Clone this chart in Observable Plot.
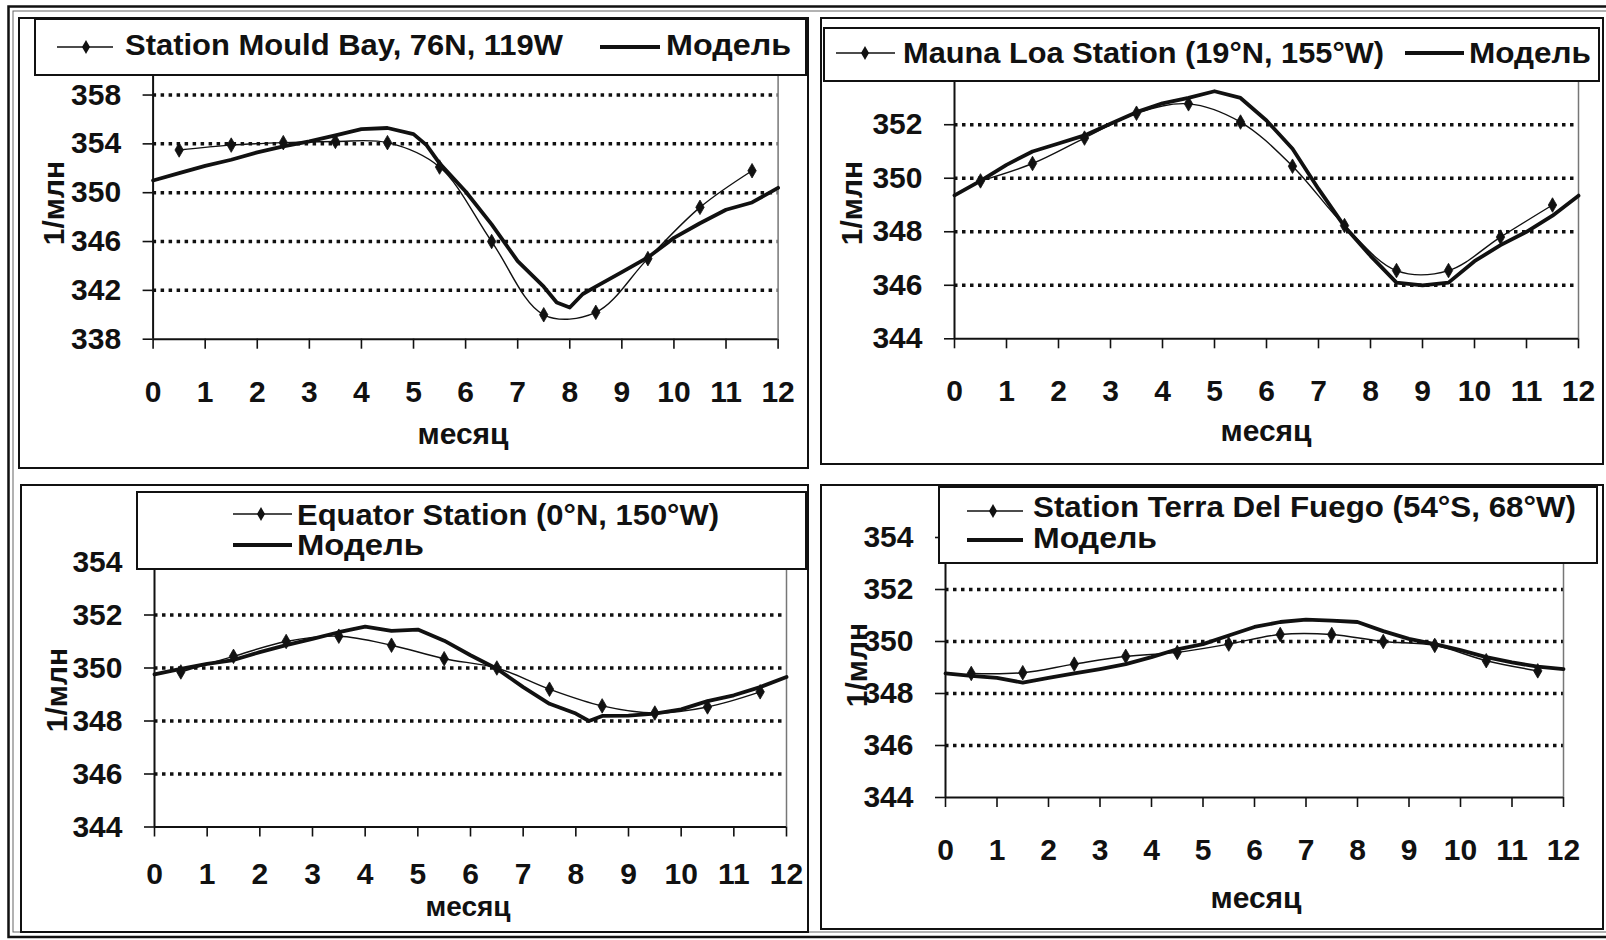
<!DOCTYPE html>
<html><head><meta charset="utf-8">
<script src="https://cdn.jsdelivr.net/npm/d3@7"></script>
<script src="https://cdn.jsdelivr.net/npm/@observablehq/plot@0.6"></script>
<style>
body{margin:0;background:#fff;}
#root{position:relative;width:1606px;height:940px;overflow:hidden;background:#fff;font-family:"Liberation Sans",Arial,sans-serif;}
#root svg{position:absolute;left:0;top:0;}
</style></head><body><div id="root"></div>
<script>
// ---- data ----
const obsMonths = [0.5,1.5,2.5,3.5,4.5,5.5,6.5,7.5,8.5,9.5,10.5,11.5];
const xTicks = [0,1,2,3,4,5,6,7,8,9,10,11,12];

const mouldObs = [353.5,353.9,354.1,354.2,354.1,352.1,346.0,340.0,340.2,344.6,348.8,351.8];
const mouldModelX = [0,0.5,1,1.5,2,2.5,3,3.5,4,4.5,5,5.25,5.5,6,6.5,7,7.5,7.75,8,8.25,8.5,9,9.5,10,10.5,11,11.5,12];
const mouldModelY = [351.0,351.6,352.2,352.7,353.3,353.8,354.2,354.7,355.2,355.3,354.8,353.9,352.4,350.1,347.4,344.4,342.3,341.0,340.6,341.7,342.3,343.5,344.7,346.3,347.5,348.6,349.2,350.4];

const maunaObs = [349.9,350.55,351.5,352.43,352.78,352.1,350.45,348.23,346.55,346.55,347.8,349.0];
const maunaModelX = [0,0.5,1,1.5,2,2.5,3,3.5,4,4.5,5,5.5,6,6.5,7,7.5,8,8.5,9,9.5,10,10.5,11,11.5,12];
const maunaModelY = [349.36,349.9,350.5,351.0,351.3,351.6,352.04,352.47,352.8,353.0,353.25,353.0,352.16,351.1,349.6,348.2,347.1,346.1,346.0,346.1,346.9,347.5,348.0,348.6,349.35];

const equatorObs = [349.85,350.44,351.0,351.2,350.86,350.35,350.0,349.2,348.57,348.3,348.53,349.1];
const equatorModelX = [0,0.5,1,1.5,2,2.5,3,3.5,4,4.5,5,5.5,6,6.5,7,7.5,8,8.25,8.5,9,9.5,10,10.5,11,11.5,12];
const equatorModelY = [349.76,349.97,350.16,350.3,350.6,350.86,351.1,351.35,351.56,351.4,351.45,351.03,350.48,349.97,349.28,348.65,348.28,348.0,348.19,348.2,348.28,348.44,348.75,348.97,349.28,349.66];

const fuegoObs = [348.77,348.8,349.13,349.43,349.58,349.9,350.27,350.27,350.0,349.85,349.26,348.87];
const fuegoModelX = [0,0.5,1,1.5,2,2.5,3,3.5,4,4.5,5,5.5,6,6.5,7,7.5,8,8.5,9,9.5,10,10.5,11,11.5,12];
const fuegoModelY = [348.77,348.68,348.6,348.42,348.6,348.77,348.94,349.13,349.4,349.7,349.9,350.23,350.56,350.75,350.84,350.8,350.75,350.4,350.1,349.9,349.67,349.4,349.2,349.03,348.94];

const stationNames = ["Station Mould Bay, 76N, 119W","Mauna Loa Station (19°N, 155°W)","Equator Station (0°N, 150°W)","Station Terra Del Fuego (54°S, 68°W)"];
const modelName = "Модель";
const yTitle = "1/млн";
const xTitle = "месяц";

// ---- layout ----
const W = 1606, H = 940;
const FONT = "Liberation Sans, Arial, Helvetica, sans-serif";
const panels = [
  {obs: mouldObs, mx: mouldModelX, my: mouldModelY, domain:[338,359.6], ticks:[338,342,346,350,354,358], grid:[342,346,350,354,358],
   left:152.6, right:777.6, top:75, bottom:338.7, pad:31},
  {obs: maunaObs, mx: maunaModelX, my: maunaModelY, domain:[344,354], ticks:[344,346,348,350,352], grid:[346,348,350,352],
   left:954, right:1578, top:70.7, bottom:338.3, pad:31},
  {obs: equatorObs, mx: equatorModelX, my: equatorModelY, domain:[344,354], ticks:[344,346,348,350,352,354], grid:[346,348,350,352],
   left:154, right:786, top:561.5, bottom:826.5, pad:26},
  {obs: fuegoObs, mx: fuegoModelX, my: fuegoModelY, domain:[344,354], ticks:[344,346,348,350,352,354], grid:[346,348,350,352],
   left:945, right:1563, top:537, bottom:797, pad:31}
];

const root = document.getElementById("root");

panels.forEach(p => {
  const obs = p.obs.map((v,i) => ({x: obsMonths[i], y: v}));
  const model = p.mx.map((x,i) => ({x, y: p.my[i]}));
  const chart = Plot.plot({
    width: W, height: H,
    marginLeft: p.left, marginRight: W - p.right, marginTop: p.top, marginBottom: H - p.bottom,
    style: {background: "transparent", fontFamily: FONT, fontSize: "30px", fontWeight: "bold", color: "#111", overflow: "visible"},
    x: {domain: [0, 12]},
    y: {domain: p.domain},
    marks: [
      Plot.ruleY(p.grid, {stroke: "#111", strokeWidth: 3.5, strokeDasharray: "3.5,4.5"}),
      Plot.ruleX([12], {stroke: "#777", strokeWidth: 1.5}),
      Plot.line(model, {x: "x", y: "y", stroke: "#111", strokeWidth: 3.8}),
      Plot.line(obs, {x: "x", y: "y", stroke: "#111", strokeWidth: 1.4, curve: "catmull-rom"}),
      Plot.dot(obs, {x: "x", y: "y", symbol: "diamond", r: 4.4, fill: "#111", stroke: "#111", strokeWidth: 0.8}),
      Plot.axisX({ticks: xTicks, tickSize: 10, tickPadding: p.pad, label: null, fontSize: 30, fontWeight: "bold", stroke: "#111", strokeWidth: 1.6}),
      Plot.axisY({ticks: p.ticks, tickSize: 10, tickPadding: 22, label: null, fontSize: 30, fontWeight: "bold", stroke: "#111", strokeWidth: 1.6}),
      Plot.ruleX([0], {stroke: "#111", strokeWidth: 2}),
      Plot.ruleY([p.domain[0]], {stroke: "#111", strokeWidth: 2})
    ]
  });
  root.appendChild(chart);
});

// ---- frames, legends, axis titles (overlay) ----
const ov = d3.select(root).append("svg").attr("width", W).attr("height", H)
  .style("position","absolute").style("left","0").style("top","0")
  .style("font-family", FONT).style("font-weight","bold").style("font-size","30px");

// outer border
ov.append("rect").attr("x",8.5).attr("y",6.5).attr("width",1610).attr("height",930.5)
  .attr("fill","none").attr("stroke","#111").attr("stroke-width",2.5);
ov.append("rect").attr("x",13).attr("y",11).attr("width",1610).attr("height",921)
  .attr("fill","none").attr("stroke","#666").attr("stroke-width",1);

const frames = [[19,18,808,468],[821,18,1603,464],[21,485,808,932],[821,485,1603,929]];
frames.forEach(([x0,y0,x1,y1]) => {
  ov.append("rect").attr("x",x0).attr("y",y0).attr("width",x1-x0).attr("height",y1-y0)
    .attr("fill","none").attr("stroke","#111").attr("stroke-width",2);
});

// legend boxes
const legends = [
  {box:[35,19,806,75], rows:[
    {sw:[57,113,47], diamond:86, tx:125, ty:55, text:stationNames[0], tl:438},
    {sw:[600,660,47], thick:true, tx:666, ty:55, text:modelName, tl:125}]},
  {box:[824,28,1599,81], rows:[
    {sw:[836,895,53], diamond:865, tx:903, ty:63, text:stationNames[1], tl:481},
    {sw:[1405,1464,53], thick:true, tx:1469, ty:63, text:modelName, tl:122}]},
  {box:[137,492,806,569], rows:[
    {sw:[233,292,514], diamond:261, tx:297, ty:525, text:stationNames[2], tl:422},
    {sw:[233,292,545], thick:true, tx:297, ty:555, text:modelName, tl:127}]},
  {box:[939,487,1597,563], rows:[
    {sw:[967,1023,511], diamond:993, tx:1033, ty:517, text:stationNames[3], tl:543},
    {sw:[967,1023,540], thick:true, tx:1033, ty:548, text:modelName, tl:124}]}
];
legends.forEach(L => {
  const [x0,y0,x1,y1] = L.box;
  ov.append("rect").attr("x",x0).attr("y",y0).attr("width",x1-x0).attr("height",y1-y0)
    .attr("fill","#fff").attr("stroke","#111").attr("stroke-width",2);
  L.rows.forEach(r => {
    const [a,b,y] = r.sw;
    ov.append("line").attr("x1",a).attr("x2",b).attr("y1",y).attr("y2",y)
      .attr("stroke","#111").attr("stroke-width", r.thick ? 3.8 : 1.6);
    if (r.diamond) {
      const c = r.diamond;
      ov.append("path").attr("d",`M${c},${y-7}L${c+4},${y}L${c},${y+7}L${c-4},${y}Z`).attr("fill","#111");
    }
    ov.append("text").attr("x",r.tx).attr("y",r.ty).attr("fill","#111")
      .attr("textLength", r.tl).attr("lengthAdjust","spacingAndGlyphs").text(r.text);
  });
});

// axis titles
const xTitles = [[463,444,30],[1266,441,30],[468,916,28],[1256,908,30]];
xTitles.forEach(([x,y,fs]) => ov.append("text").attr("x",x).attr("y",y).attr("font-size",fs).attr("text-anchor","middle").attr("fill","#111").text(xTitle));
const yTitles = [[64,203],[862,203],[67,690],[867,665]];
yTitles.forEach(([x,y]) => ov.append("text").attr("transform",`translate(${x},${y}) rotate(-90)`).attr("text-anchor","middle").attr("fill","#111").text(yTitle));
</script>
</body></html>
